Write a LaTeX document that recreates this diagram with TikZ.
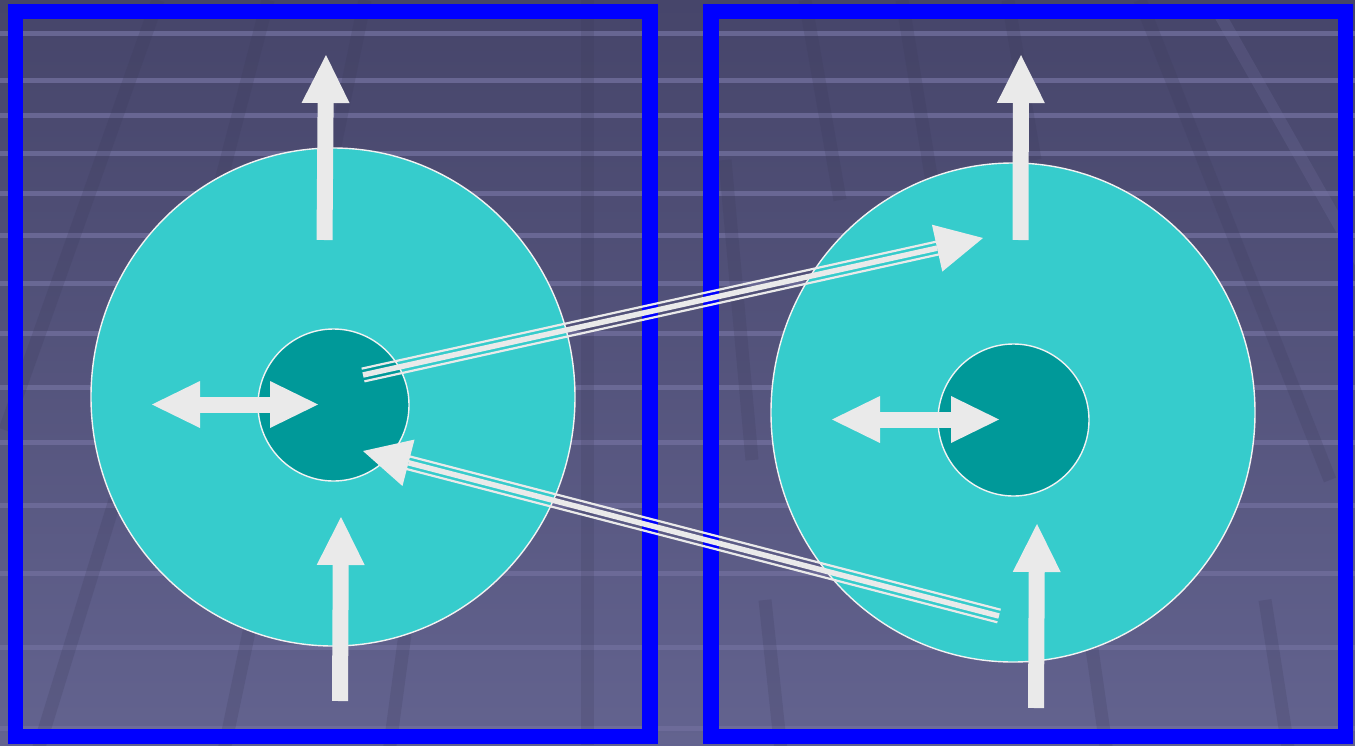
\documentclass[tikz,border=0pt]{standalone}
\usetikzlibrary{arrows.meta,calc,shapes.geometric}

\definecolor{bgtop}{HTML}{46456A}
\definecolor{bgbot}{HTML}{63638F}
\definecolor{band}{HTML}{706E9C}
\definecolor{stripedark}{HTML}{3A3958}
\definecolor{stripelight}{HTML}{7A78A8}
\definecolor{panelblue}{HTML}{0000FF}
\definecolor{ringcyan}{HTML}{36CCCC}
\definecolor{coreteal}{HTML}{009999}
\definecolor{arrowwhite}{HTML}{EAEAEA}
\definecolor{rim}{HTML}{F2F2F2}

\tikzset{
  panel/.style={draw=panelblue, line width=15.5pt},
  ring/.style={ellipse, draw=rim, line width=1.4pt, fill=ringcyan, inner sep=0pt},
  core/.style={ellipse, draw=rim, line width=1.4pt, fill=coreteal, inner sep=0pt},
  blockarrow/.style={draw=arrowwhite, line width=16pt, -{Triangle[length=48pt,width=48pt,line width=0pt]}},
  twoway/.style={draw=arrowwhite, line width=16pt,
     {Triangle[length=48pt,width=47pt,line width=0pt]}-{Triangle[length=48pt,width=47pt,line width=0pt]}},
  flowcore/.style={draw=arrowwhite, line width=5.5pt, -{Triangle[length=47pt,width=48pt,line width=0pt]}},
  flowside/.style={draw=arrowwhite, line width=2.2pt},
  darkstripe/.style={draw=stripedark, line width=13pt, opacity=0.2},
  lightstripe/.style={draw=stripelight, line width=12pt, opacity=0.2},
}

\begin{document}
\begin{tikzpicture}[x=1pt,y=-1pt]
\useasboundingbox (0,0) rectangle (1355,745);

% backdrop: gradient with horizontal light bands and faint slanted stripes
\shade[top color=bgtop, bottom color=bgbot] (0,0) rectangle (1355,745);
\foreach \yy in {33,80,115,153,193,235,283,333,387,442,505,573,647,728}
  \fill[band, opacity=0.8] (0,\yy-2.5) rectangle (1355,\yy+2.5);

\begin{scope}
\clip (0,0) rectangle (1355,745);
\foreach \ax/\ay/\bx/\by in {
    158/0/5/430, 268/0/190/300, 365/0/330/170,
    115/500/35/760, 262/570/222/760, 415/560/388/760, 587/0/587/745,
    805/0/840/200, 902/0/935/200, 1008/0/1035/160, 1140/0/1330/480,
    725/160/752/460, 765/600/782/760, 1085/600/1108/760, 1265/600/1290/760}
  \draw[darkstripe] (\ax,\ay) -- (\bx,\by);
\draw[lightstripe] (1220,15) -- (1360,262);
\end{scope}

% the two panels
\draw[panel] (15.5,11.5) rectangle (650,736.5);
\draw[panel] (711,11.5) rectangle (1345.5,736.5);

% discs
\node[ring, minimum width=484pt, minimum height=498pt] (ringL) at (333,397) {};
\node[core, minimum width=151pt, minimum height=152pt] (coreL) at (333.5,405) {};
\node[ring, minimum width=484pt, minimum height=499pt] (ringR) at (1013,412.5) {};
\node[core, minimum width=151pt, minimum height=152pt] (coreR) at (1013.5,420) {};

% block arrows, left panel
\coordinate (upLtail) at (324.5,240);  \coordinate (upLtip) at (326,55);
\coordinate (inLtail) at (340,701);    \coordinate (inLtip) at (341,517);
\coordinate (hLa) at (152,404.5);      \coordinate (hLb) at (318,404.5);
\draw[blockarrow] (upLtail) -- (upLtip);
\draw[blockarrow] (inLtail) -- (inLtip);
\draw[twoway] (hLa) -- (hLb);

% block arrows, right panel
\coordinate (upRtail) at (1020.5,240); \coordinate (upRtip) at (1021,55);
\coordinate (inRtail) at (1036,708);   \coordinate (inRtip) at (1037,524);
\coordinate (hRa) at (832,419.5);      \coordinate (hRb) at (999,419.5);
\draw[blockarrow] (upRtail) -- (upRtip);
\draw[blockarrow] (inRtail) -- (inRtip);
\draw[twoway] (hRa) -- (hRb);

% triple-line transfer arrows between the panels
\coordinate (goS) at (363,375);   \coordinate (goE) at (983,238);
\coordinate (backS) at (999,616); \coordinate (backE) at (363,451);

\draw[flowcore] (goS) -- (goE);
\coordinate (goB) at ($(goE)!44pt!(goS)$);
\foreach \s in {1,-1}
  \draw[flowside] ($(goS)!\s*6.5pt!90:(goE)$) -- ($(goB)!\s*6.5pt!-90:(goS)$);

\draw[flowcore] (backS) -- (backE);
\coordinate (backB) at ($(backE)!44pt!(backS)$);
\foreach \s in {1,-1}
  \draw[flowside] ($(backS)!\s*6.5pt!90:(backE)$) -- ($(backB)!\s*6.5pt!-90:(backS)$);
\end{tikzpicture}
\end{document}
